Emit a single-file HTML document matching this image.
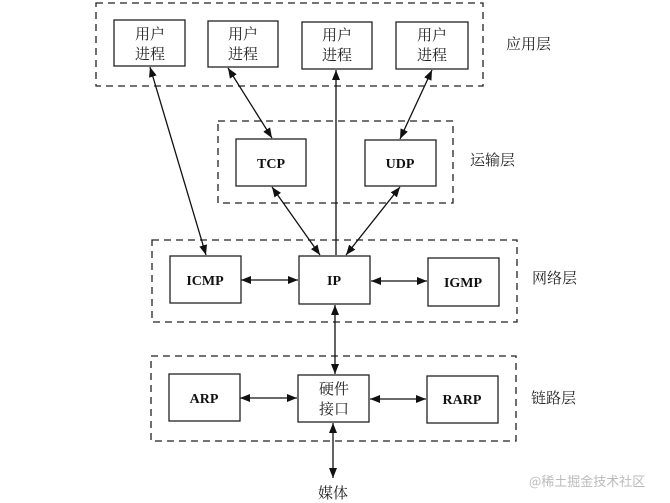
<!DOCTYPE html>
<html><head><meta charset="utf-8"><style>
html,body{margin:0;padding:0;background:#fff;}
svg{display:block;}
.cn{font-family:"Liberation Serif","Noto Serif CJK SC","Noto Sans CJK SC",serif;font-size:15px;fill:#222;}
.en{font-family:"Liberation Serif",serif;font-size:14px;font-weight:bold;fill:#111;}
</style></head><body>
<svg width="670" height="503" viewBox="0 0 670 503" xmlns="http://www.w3.org/2000/svg">
<defs>
<marker id="a" viewBox="0 0 10 8" refX="10" refY="4" markerWidth="10" markerHeight="8" markerUnits="userSpaceOnUse" orient="auto-start-reverse">
<path d="M0,0 L10,4 L0,8 Z" fill="#111"/></marker>
</defs>
<g fill="none" stroke="#222" stroke-width="1.3" stroke-dasharray="7,5">
<rect x="96" y="3" width="387" height="83"/>
<rect x="218" y="121" width="235" height="82"/>
<rect x="152" y="240" width="365" height="82"/>
<rect x="151" y="356" width="365" height="85"/>
</g>
<g fill="#fff" stroke="#222" stroke-width="1.3">
<rect x="114" y="20" width="71" height="46"/>
<rect x="208" y="21" width="70" height="46"/>
<rect x="302" y="22" width="70" height="47"/>
<rect x="396" y="22" width="72" height="47"/>
<rect x="236" y="139" width="70" height="47"/>
<rect x="365" y="140" width="71" height="46"/>
<rect x="170" y="256" width="71" height="47"/>
<rect x="299" y="256" width="71" height="48"/>
<rect x="428" y="258" width="71" height="48"/>
<rect x="169" y="374" width="71" height="47"/>
<rect x="298" y="375" width="71" height="47"/>
<rect x="427" y="376" width="71" height="47"/>
</g>
<g stroke="#111" stroke-width="1.3" marker-start="url(#a)" marker-end="url(#a)">
<line x1="150" y1="67" x2="206" y2="255"/>
<line x1="228" y1="68" x2="272" y2="138"/>
<line x1="432" y1="70" x2="400" y2="139"/>
<line x1="272" y1="187" x2="320" y2="255"/>
<line x1="400" y1="187" x2="346" y2="255"/>
<line x1="241" y1="280" x2="298" y2="280"/>
<line x1="371" y1="281" x2="427" y2="281"/>
<line x1="335" y1="305" x2="335" y2="374"/>
<line x1="240" y1="398" x2="297" y2="398"/>
<line x1="370" y1="399" x2="426" y2="399"/>
<line x1="333" y1="423" x2="333" y2="478"/>
</g>
<line x1="336" y1="70" x2="336" y2="255" stroke="#111" stroke-width="1.3" marker-start="url(#a)"/>
<g class="cn" text-anchor="middle">
<text x="150" y="39">用户</text><text x="150" y="59">进程</text>
<text x="243" y="39">用户</text><text x="243" y="59">进程</text>
<text x="337" y="40">用户</text><text x="337" y="60">进程</text>
<text x="432" y="40">用户</text><text x="432" y="60">进程</text>
<text x="334" y="394">硬件</text><text x="334" y="414">接口</text>
<text x="333" y="498">媒体</text>
</g>
<g class="cn">
<text x="506" y="49">应用层</text>
<text x="470" y="165">运输层</text>
<text x="532" y="283">网络层</text>
<text x="531" y="403">链路层</text>
</g>
<text x="529" y="486" style="font-family:'Noto Sans CJK SC',sans-serif;font-size:13px;fill:#bbb;">@稀土掘金技术社区</text>
<g class="en" text-anchor="middle">
<text x="271" y="168">TCP</text>
<text x="400" y="168">UDP</text>
<text x="205" y="285">ICMP</text>
<text x="334" y="285">IP</text>
<text x="463" y="287">IGMP</text>
<text x="204" y="403">ARP</text>
<text x="462" y="404">RARP</text>
</g>
</svg>
</body></html>
